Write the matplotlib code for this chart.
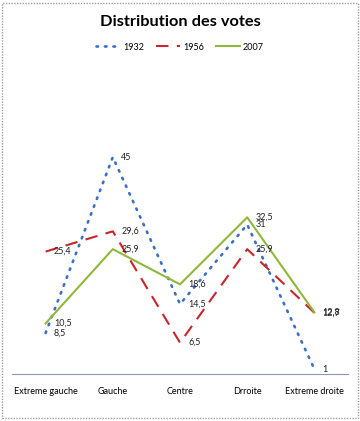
import matplotlib
matplotlib.use("Agg")
import matplotlib.pyplot as plt
from matplotlib.patches import Rectangle

categories = ["Extreme gauche", "Gauche", "Centre", "Drroite", "Extreme droite"]
series_names = ["1932", "1956", "2007"]
v1932 = [8.5, 45, 14.5, 31, 1]
v1956 = [25.4, 29.6, 6.5, 25.9, 12.7]
v2007 = [10.5, 25.9, 18.6, 32.5, 12.8]

plt.rcParams['font.family'] = ['Lato', 'DejaVu Sans']

fig = plt.figure(figsize=(3.6, 4.21), dpi=100)
fig.patches.append(Rectangle((0.006, 0.006), 0.988, 0.988, transform=fig.transFigure,
                             fill=False, edgecolor='#a0a0a0', linewidth=1, linestyle=(0, (1, 1))))
ax = fig.add_axes([12/360, 47/421, 336/360, 241/421])

x = list(range(len(categories)))
styles = [
    (v1932, '#3b6fc4', (0, (0.6, 2.6)), 'round', 1.9),
    (v1956, '#c9252a', (0, (6, 4)), 'butt', 1.5),
    (v2007, '#8fb83a', '-', 'butt', 1.5),
]
handles = []
for (vals, color, ls, cap, lw), name in zip(styles, series_names):
    h, = ax.plot(x, vals, color=color, linestyle=ls, linewidth=lw,
                 dash_capstyle=cap, label=name)
    handles.append(h)

for vals in [v1932, v1956, v2007]:
    for xi, v in zip(x, vals):
        ax.annotate(f"{v:g}".replace('.', ','), (xi, v), xytext=(6, 0), textcoords='offset points',
                    fontsize=6.5, va='center', ha='left', color='#222222')

ax.set_xlim(-0.5, 4.5)
ax.set_ylim(0, 50)
ax.set_xticks(x)
ax.set_xticklabels(categories, fontsize=6.5)
ax.tick_params(axis='x', length=0, pad=9)
ax.set_yticks([])
for s in ['top', 'right', 'left']:
    ax.spines[s].set_visible(False)
ax.spines['bottom'].set_color('#8c9bb0')
ax.spines['bottom'].set_linewidth(0.8)

fig.text(0.5, 0.948, "Distribution des votes", ha='center', va='center', fontsize=11.8, fontweight='bold')
fig.legend(handles=handles, loc='center', bbox_to_anchor=(0.5, 0.888), ncol=3, frameon=False,
           fontsize=6.5, handlelength=2.7, columnspacing=1.3, handletextpad=0.3)

fig.savefig("out.png", dpi=100)
